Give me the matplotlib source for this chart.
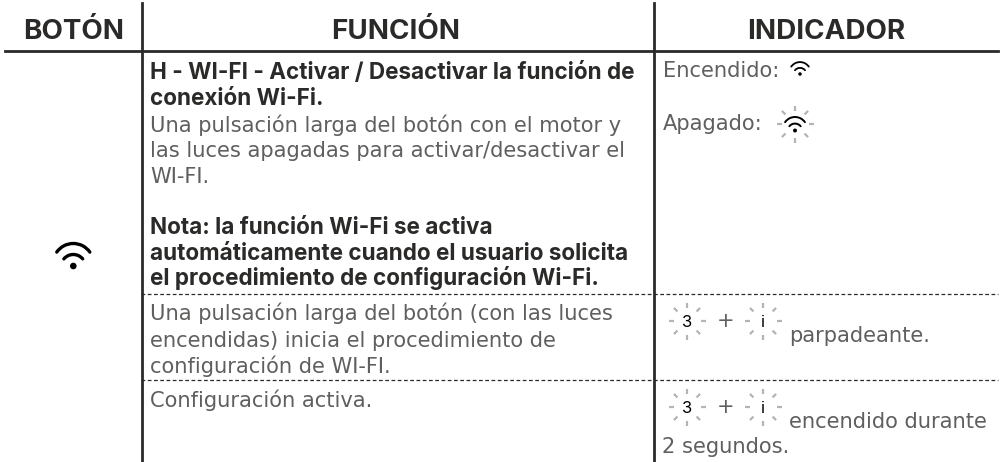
import matplotlib
matplotlib.use("Agg")
import matplotlib.pyplot as plt
from matplotlib.patches import Arc, Circle
import numpy as np

W, H = 1001, 462

# table text
HEADERS = ["BOTÓN", "FUNCIÓN", "INDICADOR"]
FUNC_BOLD = [
    "H - WI-FI - Activar / Desactivar la función de",
    "conexión Wi-Fi.",
]
FUNC_BODY = [
    "Una pulsación larga del botón con el motor y",
    "las luces apagadas para activar/desactivar el",
    "WI-FI.",
]
FUNC_NOTE = [
    "Nota: la función Wi-Fi se activa",
    "automáticamente cuando el usuario solicita",
    "el procedimiento de configuración Wi-Fi.",
]
FUNC_ROW2 = [
    "Una pulsación larga del botón (con las luces",
    "encendidas) inicia el procedimiento de",
    "configuración de WI-FI.",
]
FUNC_ROW3 = ["Configuración activa."]

DARK = "#2b2a29"
GREY = "#5f5f5e"
RAY = "#b4b4b4"
BODY_SIZE = 15.1
BOLD_SIZE = 16.2

plt.rcParams["font.family"] = ["Inter", "DejaVu Sans"]

fig = plt.figure(figsize=(W / 100, H / 100), dpi=100)
ax = fig.add_axes([0, 0, 1, 1])
ax.set_xlim(0, W)
ax.set_ylim(H, 0)
ax.axis("off")


def wifi(x, y, s=1.0, lw=2.4):
    # y is the dot centre, s scales the icon
    ax.add_patch(Circle((x, y), 3.3 * s, color="black", lw=0))
    ax.add_patch(Arc((x, y + 0.8 * s), 24.6 * s, 24.6 * s, theta1=220, theta2=320,
                     lw=lw, color="black", capstyle="round"))
    ax.add_patch(Arc((x, y - 2.3 * s), 40.4 * s, 40.4 * s, theta1=215, theta2=325,
                     lw=lw, color="black", capstyle="round"))


def rays(x, y, r0=13.5, r1=18.5):
    for a in np.arange(0, 360, 45):
        c, s = np.cos(np.radians(a)), np.sin(np.radians(a))
        ax.plot([x + r0 * c, x + r1 * c], [y + r0 * s, y + r1 * s], color=RAY, lw=1.6,
                solid_capstyle="butt")


def lines(x, ys, rows, bold=False):
    for y, row in zip(ys, rows):
        if bold:
            ax.text(x, y, row, fontsize=BOLD_SIZE, color=DARK, fontweight="bold", va="baseline")
        else:
            ax.text(x, y, row, fontsize=BODY_SIZE, color=GREY, family="DejaVu Sans", va="baseline")


def blink(x, y, label):
    rays(x, y)
    ax.text(x, y + 6, label, fontsize=12, color="black", ha="center", va="baseline")


# grid
ax.plot([141.5, 141.5], [3, 462], color=DARK, lw=2)
ax.plot([653.5, 653.5], [3, 462], color=DARK, lw=2)
ax.plot([5, 998], [51, 51], color=DARK, lw=2)
ax.plot([141, 998], [294, 294], color=DARK, lw=0.9, ls=(0, (3, 2)))
ax.plot([141, 998], [380, 380], color=DARK, lw=0.9, ls=(0, (3, 2)))

# headers
for hx, label in zip([73.5, 396, 826], HEADERS):
    ax.text(hx, 39, label, fontsize=20, fontweight="bold", color=DARK, ha="center", va="baseline")

# function column
lines(150, [79, 105], FUNC_BOLD, bold=True)
lines(150, [132, 157, 183], FUNC_BODY)
lines(150, [234, 260, 285], FUNC_NOTE, bold=True)
lines(150, [320, 347, 373], FUNC_ROW2)
lines(150, [407], FUNC_ROW3)

# indicator column
lines(663, [77], ["Encendido:"])
wifi(800, 74, 0.53, 1.3)
lines(663, [130], ["Apagado:"])
wifi(795, 130.5, 0.6, 1.4)
rays(795, 124)

blink(687, 321, "3")
lines(717, [327], ["+"])
blink(763, 321, "i")
lines(789, [342], ["parpadeante."])

blink(687, 407, "3")
lines(717, [413], ["+"])
blink(763, 407, "i")
lines(789, [428], ["encendido durante"])
lines(662, [453], ["2 segundos."])

# button column
wifi(73.3, 266, 1.0, 2.4)

fig.savefig("out.png", dpi=100)
